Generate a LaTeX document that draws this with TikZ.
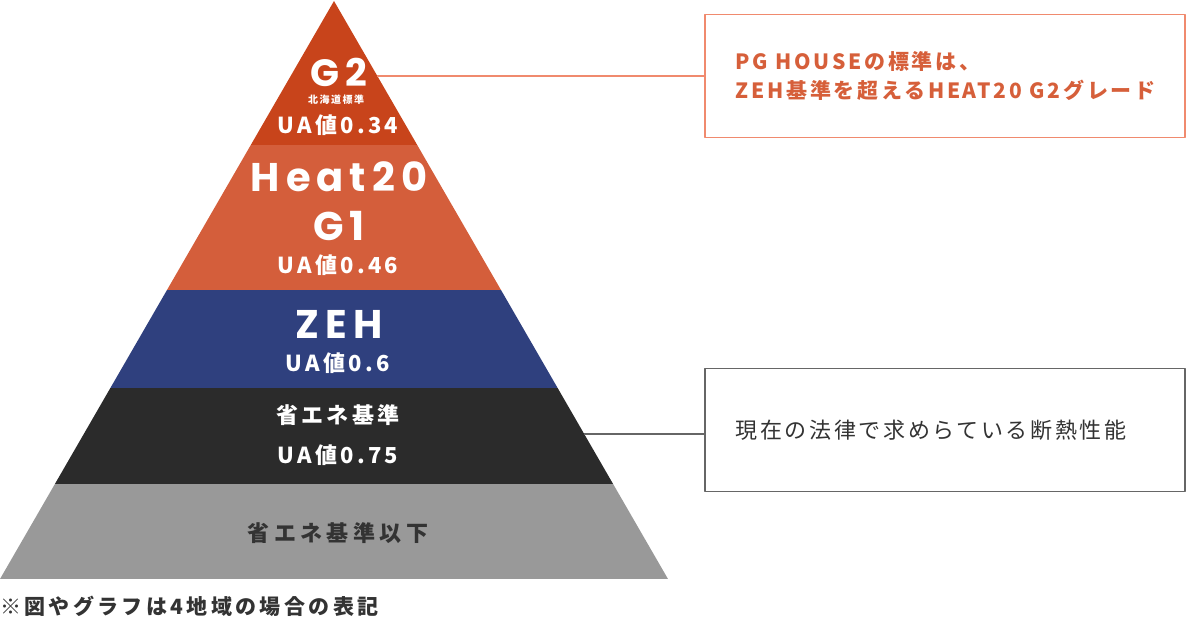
\documentclass[tikz,border=0pt]{standalone}
\usepackage{fontspec}
\setmainfont{Noto Sans CJK JP}
\newfontfamily\popfont{Poppins}
\usetikzlibrary{positioning}
\definecolor{gtwo}{HTML}{C8441B}
\definecolor{gone}{HTML}{D45E3B}
\definecolor{zeh}{HTML}{2F407E}
\definecolor{shoene}{HTML}{2B2B2B}
\definecolor{grayband}{HTML}{999999}
\definecolor{salmon}{HTML}{F08A6E}
\definecolor{rust}{HTML}{D65F3A}
\definecolor{ink}{HTML}{333333}
\begin{document}
\begin{tikzpicture}[x=1pt,y=-1pt,line join=round]
	\tikzset{
		grade/.style={text=white,inner sep=0pt,font=\popfont\bfseries\fontsize{40}{44}\selectfont\addfontfeatures{LetterSpace=15}},
		uaval/.style={text=white,inner sep=0pt,font=\bfseries\fontsize{22}{26}\selectfont\addfontfeatures{LetterSpace=15}},
		calloutbox/.style={draw,line width=1.2pt,minimum width=480pt,minimum height=123pt,inner sep=0pt},
		callouttext/.style={anchor=west,inner sep=0pt,align=left}
	}
	\useasboundingbox (0,0) rectangle (1186,617);
	% pyramid bands
	\begin{scope}
		\clip (334,1) -- (668,579) -- (0,579) -- cycle;
		\fill[gtwo] (0,0) rectangle (668,145);
		\fill[gone] (0,145) rectangle (668,290);
		\fill[zeh] (0,290) rectangle (668,388);
		\fill[shoene] (0,388) rectangle (668,484);
		\fill[grayband] (0,484) rectangle (668,579);
	\end{scope}
	% labels
	\node[grade,anchor=base,text depth=0pt,font=\popfont\bfseries\fontsize{38}{40}\selectfont\addfontfeatures{LetterSpace=15}] (g2) at (339,87) {G2};
	\node[text=white,inner sep=0pt,font=\bfseries\fontsize{10}{12}\selectfont\addfontfeatures{LetterSpace=15}] (hokkaido) at (336,100) {北海道標準};
	\node[uaval] (ua34) at (338,125) {UA値0.34};
	\node[grade] (heat) at (339,177) {Heat20};
	\node[grade] (g1) at (339,226) {G1};
	\node[uaval] (ua46) at (338,265) {UA値0.46};
	\node[grade] (zehlabel) at (339,324) {ZEH};
	\node[uaval] (ua6) at (338,363) {UA値0.6};
	\node[uaval] (shoenelabel) at (338,415) {省エネ基準};
	\node[uaval] (ua75) at (338,455) {UA値0.75};
	\node[uaval,text=ink,font=\bfseries\fontsize{22}{26}\selectfont\addfontfeatures{LetterSpace=20}] (belowlabel) at (338,533) {省エネ基準以下};
	\node[anchor=west,inner sep=0pt,text=ink,font=\bfseries\fontsize{21}{24}\selectfont\addfontfeatures{LetterSpace=16}] (note) at (0,606) {※図やグラフは4地域の場合の表記};
	% callouts
	\node[calloutbox,salmon] (gbox) at (945,76) {};
	\node[callouttext,text=rust,font=\bfseries\fontsize{21}{29}\selectfont\addfontfeatures{LetterSpace=13}] (gtext) at ([xshift=31pt]gbox.west) {PG HOUSEの標準は、\\ZEH基準を超えるHEAT20 G2グレード};
	\node[calloutbox,draw=black!60] (sbox) at (945,430) {};
	\node[callouttext,text=ink,font=\fontsize{22}{29}\selectfont\addfontfeatures{LetterSpace=12}] (stext) at ([xshift=31pt]sbox.west) {現在の法律で求めらている断熱性能};
	\coordinate (gedge) at (377,76);
	\coordinate (sedge) at (584,434);
	\draw[salmon,line width=1.2pt] (gedge) -- (gbox.west);
	\draw[black!60,line width=1.2pt] (sedge) -- (sbox.west |- sedge);
\end{tikzpicture}
\end{document}
